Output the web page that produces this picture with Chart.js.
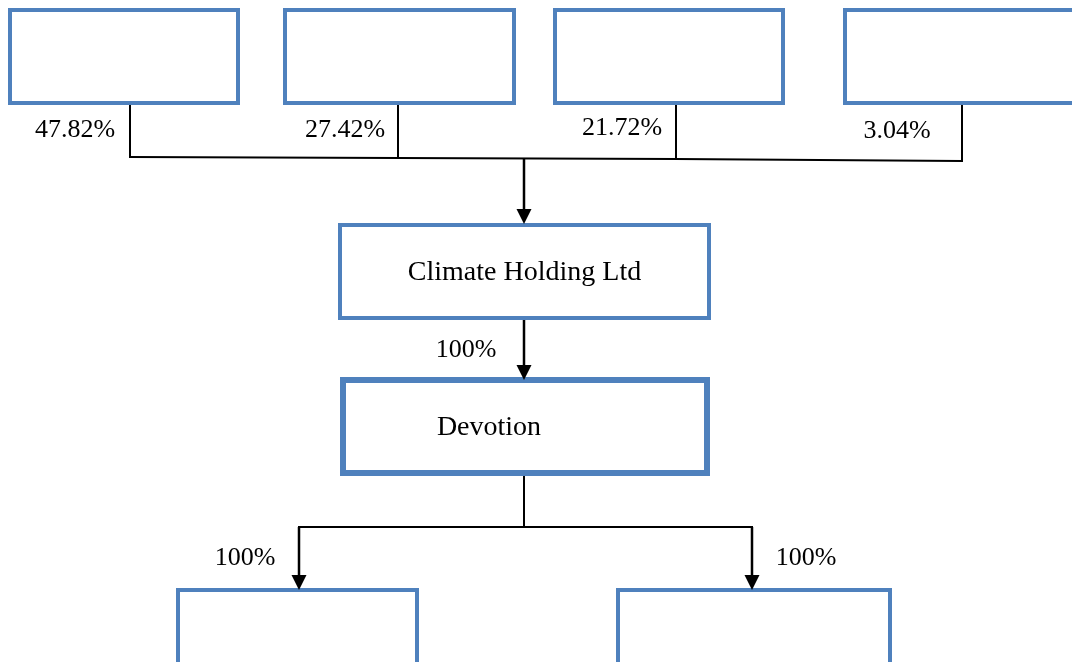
<!DOCTYPE html>
<html>
<head>
<meta charset="utf-8">
<script src="https://cdn.jsdelivr.net/npm/chart.js@4.4.0/dist/chart.umd.min.js"></script>
<style>
  html, body { margin: 0; padding: 0; background: #fff; }
  #wrap { width: 1072px; height: 662px; }
</style>
</head>
<body>
<div id="wrap"><canvas id="orgChart" width="1072" height="662"></canvas></div>
<script>
// data
const nodeNames = ['', '', '', '', 'Climate Holding Ltd', 'Devotion', '', ''];
const shareholderPct = ['47.82%', '27.42%', '21.72%', '3.04%'];
const subsidiaryPct = ['100%', '100%', '100%'];  // climate->devotion, devotion->left, devotion->right

// layout (page units, y grows downward)
const boxX = [[10, 238], [285, 514], [555, 783], [845, 1074], [340, 709], [343, 707], [178, 417], [618, 890]];
const boxY = [[10, 103], [10, 103], [10, 103], [10, 103], [225, 318], [380, 473], [590, 666], [590, 666]];
const boxWidth = [4, 4, 4, 4, 4, 6, 4, 4];
const stemX = [130, 398, 676, 962];
const busY = [157, 158, 159, 161];
const pctPos = [[75, 130], [345, 130], [622, 128], [897, 131]];
const subPctPos = [[466, 350], [245, 558], [806, 558]];

const blue = '#4f81bd';

let datasets = [];

// boxes (path goes round once more to the 2nd corner so every corner gets a mitre)
boxX.forEach((bx, i) => {
  const by = boxY[i];
  datasets.push({
    type: 'line',
    data: [{x: bx[0], y: by[0]}, {x: bx[1], y: by[0]}, {x: bx[1], y: by[1]}, {x: bx[0], y: by[1]},
           {x: bx[0], y: by[0]}, {x: bx[1], y: by[0]}],
    borderColor: blue,
    borderWidth: boxWidth[i],
    borderJoinStyle: 'miter',
    pointRadius: 0,
    tension: 0
  });
});

// shareholder stems
stemX.forEach((sx, i) => {
  datasets.push({
    type: 'line',
    data: [{x: sx, y: boxY[i][1]}, {x: sx, y: busY[i] + 1}],
    borderColor: '#000', borderWidth: 2, pointRadius: 0
  });
});

// bus line
datasets.push({
  type: 'line',
  data: stemX.map((sx, i) => ({x: sx, y: busY[i]})),
  borderColor: '#000', borderWidth: 2, pointRadius: 0
});

// arrows (shaft from -> to, head drawn by plugin)
const arrows = [
  [[524, 158], [524, 224]],
  [[524, 318], [524, 380]],
  [[299, 527], [299, 590]],
  [[752, 527], [752, 590]]
];
arrows.forEach(a => {
  datasets.push({
    type: 'line',
    data: [{x: a[0][0], y: a[0][1]}, {x: a[1][0], y: a[1][1] - 8}],
    borderColor: '#000', borderWidth: 2.5, pointRadius: 0
  });
});

// devotion -> split
datasets.push({
  type: 'line',
  data: [{x: 524, y: 473}, {x: 524, y: 527}],
  borderColor: '#000', borderWidth: 2, pointRadius: 0
});
datasets.push({
  type: 'line',
  data: [{x: 298, y: 527}, {x: 753, y: 527}],
  borderColor: '#000', borderWidth: 2, pointRadius: 0
});

const diagramPlugin = {
  id: 'diagram',
  afterDatasetsDraw(chart) {
    const ctx = chart.ctx;
    const xs = chart.scales.x, ys = chart.scales.y;
    const px = v => xs.getPixelForValue(v);
    const py = v => ys.getPixelForValue(v);

    // arrow heads
    ctx.save();
    ctx.fillStyle = '#000';
    arrows.forEach(a => {
      const tx = px(a[1][0]), ty = py(a[1][1]);
      ctx.beginPath();
      ctx.moveTo(tx, ty);
      ctx.lineTo(tx - 7.5, ty - 15);
      ctx.lineTo(tx + 7.5, ty - 15);
      ctx.closePath();
      ctx.fill();
    });

    ctx.textAlign = 'center';
    ctx.textBaseline = 'middle';
    ctx.fillStyle = '#000';
    ctx.font = '26px "Liberation Serif", "Times New Roman", serif';
    shareholderPct.forEach((t, i) => ctx.fillText(t, px(pctPos[i][0]), py(pctPos[i][1])));
    subsidiaryPct.forEach((t, i) => ctx.fillText(t, px(subPctPos[i][0]), py(subPctPos[i][1])));

    // box names
    ctx.font = '28px "Liberation Serif", "Times New Roman", serif';
    nodeNames.forEach((n, i) => {
      if (!n) return;
      let cx = (boxX[i][0] + boxX[i][1]) / 2;
      if (n === 'Devotion') cx = 489;
      ctx.fillText(n, px(cx), py((boxY[i][0] + boxY[i][1]) / 2 + 1));
    });
    ctx.restore();
  }
};

new Chart(document.getElementById('orgChart'), {
  type: 'scatter',
  data: { datasets: datasets },
  options: {
    responsive: false,
    animation: false,
    layout: { padding: 0 },
    plugins: { legend: { display: false }, tooltip: { enabled: false } },
    scales: {
      x: { type: 'linear', min: 0, max: 1072, display: false },
      y: { type: 'linear', min: 0, max: 662, reverse: true, display: false }
    }
  },
  plugins: [diagramPlugin]
});
</script>
</body>
</html>
